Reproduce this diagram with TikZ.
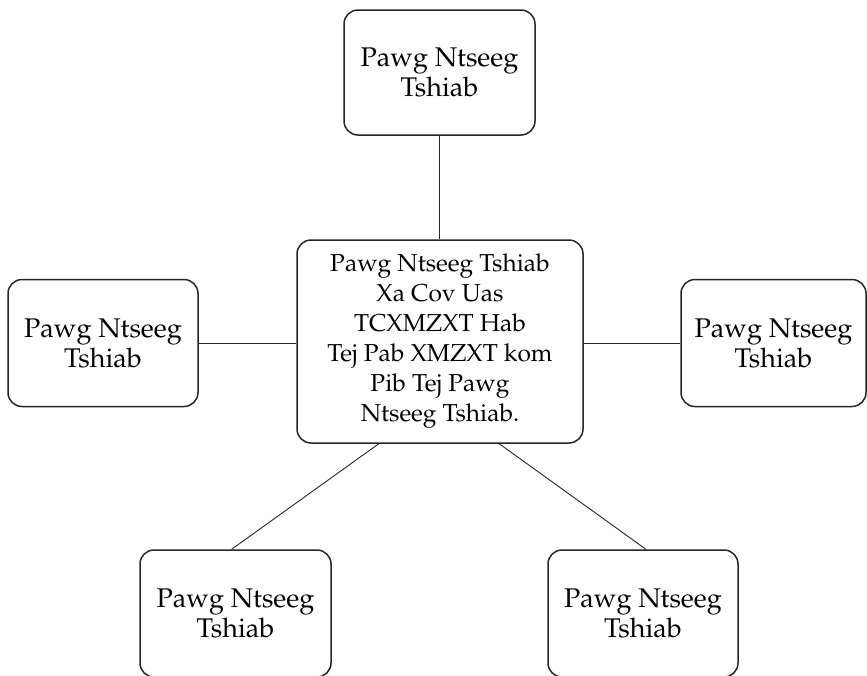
\documentclass[tikz,border=0pt]{standalone}
\usepackage[T1]{fontenc}
\usepackage{mathpazo}
\usetikzlibrary{calc}
\tikzset{
  box/.style={draw=black!85, line width=1.5pt, rounded corners=14pt, align=center, inner sep=0pt},
  outerbox/.style={box, font=\fontsize{27}{30}\selectfont},
  centerbox/.style={box, font=\fontsize{24.5}{30}\selectfont},
  link/.style={draw=black!85, line width=0.9pt}
}
\begin{document}
\begin{tikzpicture}[x=1pt,y=-1pt]
\useasboundingbox (0,0) rectangle (867,675);
\node[centerbox, minimum width=286pt, minimum height=203pt] (c) at (440,341.5)
  {Pawg Ntseeg Tshiab\\Xa Cov Uas\\TCXMZXT Hab\\Tej Pab XMZXT kom\\Pib Tej Pawg\\Ntseeg Tshiab.};
\node[outerbox, minimum width=191pt, minimum height=125pt] (t) at (439.5,72.5) {Pawg Ntseeg\\Tshiab};
\node[outerbox, minimum width=190pt, minimum height=127pt] (l) at (103,343) {Pawg Ntseeg\\Tshiab};
\node[outerbox, minimum width=185pt, minimum height=127pt] (r) at (773.5,343) {Pawg Ntseeg\\Tshiab};
\node[outerbox, minimum width=191pt, minimum height=127pt] (bl) at (235.5,613.5) {Pawg Ntseeg\\Tshiab};
\node[outerbox, minimum width=190pt, minimum height=127pt] (br) at (643,613.5) {Pawg Ntseeg\\Tshiab};
\draw[link] (t.south) -- (t.south |- c.north);
\draw[link] (l.east) -- (l.east -| c.west);
\draw[link] (r.west -| c.east) -- (r.west);
\draw[link] ($(c.south west)!0.287!(c.south east)$) -- ($(bl.north west)!0.48!(bl.north east)$);
\draw[link] ($(c.south west)!0.706!(c.south east)$) -- ($(br.north west)!0.515!(br.north east)$);
\end{tikzpicture}
\end{document}
